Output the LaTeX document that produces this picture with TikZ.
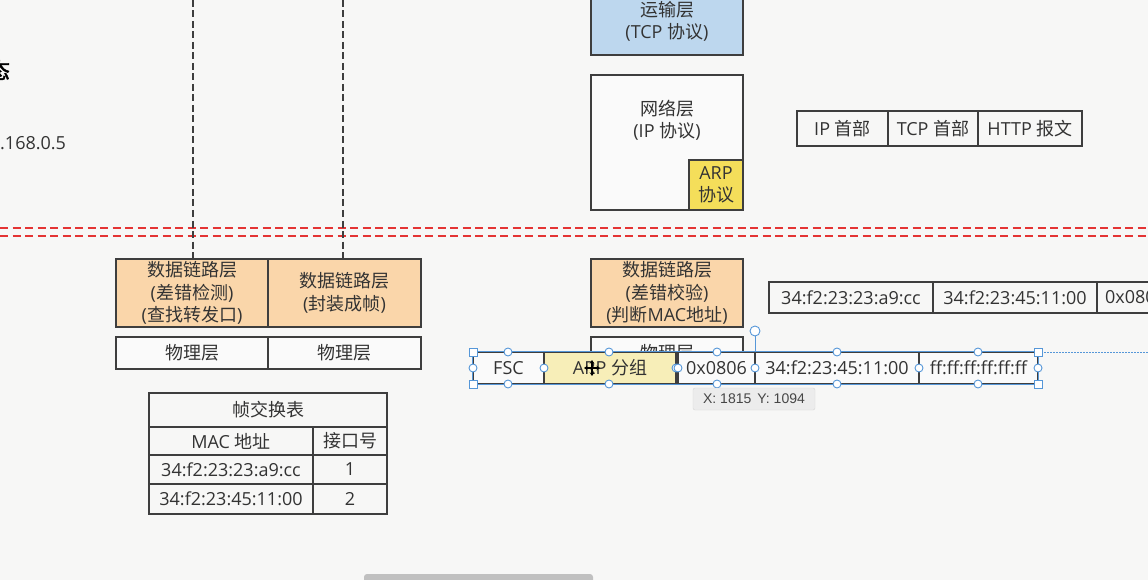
\documentclass[tikz,border=0pt]{standalone}
\usepackage{fontspec}
\setmainfont{Open Sans}
\newfontfamily\cjk{Noto Sans CJK SC}
\newfontfamily\cjkb[FakeBold=2]{Noto Sans CJK SC}
\newfontfamily\uifont{Liberation Sans}
\usetikzlibrary{arrows.meta}
\definecolor{bg}{RGB}{247,247,246}
\definecolor{lc}{RGB}{62,62,62}
\definecolor{tc}{RGB}{51,51,51}
\definecolor{blueF}{RGB}{189,215,238}
\definecolor{orF}{RGB}{250,214,170}
\definecolor{arpY}{RGB}{244,222,90}
\definecolor{arpG}{RGB}{247,238,184}
\definecolor{redD}{RGB}{228,52,52}
\definecolor{selb}{RGB}{86,151,216}
\definecolor{cellF}{RGB}{250,250,250}
\definecolor{tipB}{RGB}{214,214,214}
\definecolor{tipF}{RGB}{236,236,236}
\definecolor{tipT}{RGB}{70,70,70}
\definecolor{scrl}{RGB}{192,192,192}
\newcommand\zh[1]{{\cjk #1}}
\tikzset{
  txt/.style={inner sep=0pt, align=center, text=tc, font=\fontsize{18}{22.5}\selectfont},
  cell/.style={txt, draw=lc, line width=1.4pt, fill=cellF},
  vdash/.style={draw=lc, line width=1.2pt, dash pattern=on 7pt off 3.5pt},
  rdash/.style={draw=redD, line width=1.2pt, dash pattern=on 8pt off 4.5pt},
  hc/.style={circle, draw=selb, fill=white, line width=0.9pt, minimum size=8pt, inner sep=0pt},
  hs/.style={rectangle, draw=selb, fill=white, line width=0.9pt, minimum size=8pt, inner sep=0pt},
}
\begin{document}
\begin{tikzpicture}[x=1pt,y=-1pt]
\useasboundingbox (0,0) rectangle (1148,580);
\clip (0,0) rectangle (1148,580);
\fill[bg] (0,0) rectangle (1148,580);

% left partial texts
\node[inner sep=0pt, text=black, font=\cjkb\fontsize{22}{26}\selectfont] (st) at (-1,70) {态};
\node[txt, anchor=west] (ipaddr) at (0,143) {.168.0.5};

% red dashed separators
\coordinate (r1a) at (0,228); \coordinate (r1b) at (1148,228);
\coordinate (r2a) at (0,236); \coordinate (r2b) at (1148,236);
\draw[rdash] (r1a) -- (r1b);
\draw[rdash] (r2a) -- (r2b);

% transport / network layer
\node[cell, fill=blueF, minimum width=152pt, minimum height=67pt] (tl) at (667,21.5) {\zh{运输层}\\(TCP \zh{协议})};
\node[cell, minimum width=152pt, minimum height=135pt] (nl) at (667,142.5) {};
\node[txt] (nlt) at (667,120) {\zh{网络层}\\(IP \zh{协议})};
\node[cell, fill=arpY, minimum width=54pt, minimum height=50pt] (arp) at (716,185) {ARP\\\zh{协议}};

% IP packet row
\node[cell, fill=bg, minimum width=91pt, minimum height=35pt] (iph) at (842.5,128.5) {IP \zh{首部}};
\node[cell, fill=bg, minimum width=90pt, minimum height=35pt] (tcph) at (933,128.5) {TCP \zh{首部}};
\node[cell, fill=bg, minimum width=104pt, minimum height=35pt] (http) at (1030,128.5) {HTTP \zh{报文}};

% switch layers
\node[cell, fill=orF, minimum width=152pt, minimum height=68pt] (dl1) at (192,293) {\zh{数据链路层}\\(\zh{差错检测})\\(\zh{查找转发口})};
\node[cell, fill=orF, minimum width=153pt, minimum height=68pt] (dl2) at (344.5,293) {\zh{数据链路层}\\(\zh{封装成帧})};
\node[cell, minimum width=152pt, minimum height=32pt] (ph1) at (192,353) {\zh{物理层}};
\node[cell, minimum width=153pt, minimum height=32pt] (ph2) at (344.5,353) {\zh{物理层}};

\coordinate (v1) at (193,0);
\coordinate (v2) at (343,0);
\draw[vdash] (v1) -- (v1 |- dl1.north);
\draw[vdash] (v2) -- (v2 |- dl2.north);

% host data link
\node[cell, fill=orF, minimum width=152pt, minimum height=68pt] (dl3) at (667,293) {\zh{数据链路层}\\(\zh{差错校验})\\(\zh{判断}MAC\zh{地址})};
\node[cell, minimum width=152pt, minimum height=32pt] (ph3) at (667,353) {\zh{物理层}};

% MAC row (right)
\node[cell, fill=bg, minimum width=164pt, minimum height=31pt] (m1) at (851,297.5) {34:f2:23:23:a9:cc};
\node[cell, fill=bg, minimum width=164pt, minimum height=31pt] (m2) at (1015,297.5) {34:f2:23:45:11:00};
\node[cell, fill=bg, minimum width=77pt, minimum height=31pt] (m3) at (1135.5,297.5) {0x0806};

% frame row
\node[cell, minimum width=71pt, minimum height=32pt] (fsc) at (508.5,368) {FSC};
\node[cell, fill=arpG, minimum width=132pt, minimum height=32pt] (arpg) at (610,368) {ARP \zh{分组}};
\node[cell, minimum width=77pt, minimum height=32pt] (typ) at (716.5,368) {0x0806};
\node[cell, minimum width=164pt, minimum height=32pt] (src) at (837,368) {34:f2:23:45:11:00};
\node[cell, minimum width=119pt, minimum height=32pt] (dst) at (978.5,368) {ff:ff:ff:ff:ff:ff};

% selection UI
\coordinate (gA) at (1038,352); \coordinate (gB) at (1148,352);
\draw[selb, line width=0.7pt, dash pattern=on 1.5pt off 1.5pt] (gA) -- (gB);
\draw[selb, line width=0.9pt] (fsc.north west) rectangle (dst.south east);
\node[hc, minimum size=10pt] (rot) at (755,331) {};
\draw[selb, line width=0.9pt] (rot.south) -- (rot.south |- src.north);
\foreach \p [count=\i] in {(508,352),(508,384),(609,352),(609,384),(544,368),(676,368),(717,352),(717,384),(678,368),(755,368),(837,352),(837,384),(919,368),(978,352),(978,384),(1038,368),(473,368)}
  \node[hc] (hc\i) at \p {};
\foreach \p [count=\i] in {(473,352),(473,384),(1038,352),(1038,384)}
  \node[hs] (hs\i) at \p {};

% move cursor
\coordinate (cur) at (592,368);
\draw[black, line width=1.1pt, {Stealth[length=3.5pt,width=4.5pt]}-{Stealth[length=3.5pt,width=4.5pt]}] (cur) ++(-8,0) -- ++(16,0);
\draw[black, line width=1.1pt, {Stealth[length=3.5pt,width=4.5pt]}-{Stealth[length=3.5pt,width=4.5pt]}] (cur) ++(0,-8) -- ++(0,16);

% tooltip
\node[draw=tipB, fill=tipF, rounded corners=2pt, minimum width=122pt, minimum height=22pt, inner sep=0pt, text=tipT, font=\uifont\fontsize{14}{16}\selectfont] (tip) at (754,399) {X: 1815\hspace{6pt}Y: 1094};

% switch table
\node[cell, fill=bg, minimum width=238pt, minimum height=34pt] (tt) at (268,410) {\zh{帧交换表}};
\node[cell, fill=bg, minimum width=164pt, minimum height=28pt] (tmac) at (231,441) {MAC \zh{地址}};
\node[cell, fill=bg, minimum width=74pt, minimum height=28pt] (tport) at (350,441) {\zh{接口号}};
\node[cell, fill=bg, minimum width=164pt, minimum height=29pt] (r1m) at (231,469.5) {34:f2:23:23:a9:cc};
\node[cell, fill=bg, minimum width=74pt, minimum height=29pt] (r1p) at (350,469.5) {1};
\node[cell, fill=bg, minimum width=164pt, minimum height=30pt] (r2m) at (231,499) {34:f2:23:45:11:00};
\node[cell, fill=bg, minimum width=74pt, minimum height=30pt] (r2p) at (350,499) {2};

% scrollbar
\fill[scrl, rounded corners=3pt] (364,574) rectangle (593,586);
\end{tikzpicture}
\end{document}
